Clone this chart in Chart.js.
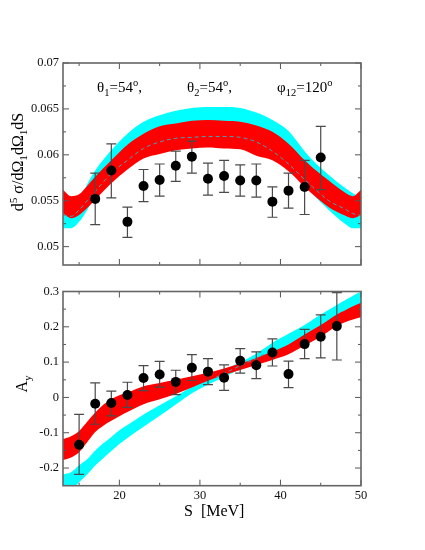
<!DOCTYPE html>
<html>
<head>
<meta charset="utf-8">
<script src="https://cdn.jsdelivr.net/npm/chart.js@4"></script>
<style>
body { margin:0; background:#fff; width:425px; height:550px; position:relative; overflow:hidden; font-family:'Liberation Serif','Times New Roman',serif; }
.box { position:absolute; left:0; width:425px; }
.txt { position:absolute; font-size:15px; line-height:16px; white-space:nowrap; color:#000; }
.txt sub, .txt sup { font-size:70%; line-height:0; }
.big { font-size:16px; }
.rot { transform: translate(-50%,-50%) rotate(-90deg); }
</style>
</head>
<body>
<div class="box" style="top:0;height:280px"><canvas id="topChart"></canvas></div>
<div class="box" style="top:280px;height:270px"><canvas id="botChart"></canvas></div>

<div class="txt" style="left:97px;top:79px">θ<sub>1</sub>=54<sup>o</sup>,</div>
<div class="txt" style="left:187px;top:79px">θ<sub>2</sub>=54<sup>o</sup>,</div>
<div class="txt" style="left:277px;top:79px">φ<sub>12</sub>=120<sup>o</sup></div>
<div class="txt big rot" style="left:18px;top:162px">d<sup>5</sup> σ/dΩ<sub>1</sub>dΩ<sub>1</sub>dS</div>
<div class="txt big rot" style="left:22px;top:384px">A<sub>y</sub></div>
<div class="txt big" style="left:184px;top:503px">S&nbsp;&nbsp;[MeV]</div>

<script>
// energies of the data points
const sPoints = [17, 19, 21, 23, 25, 27, 29, 31, 33, 35, 37, 39, 41, 43, 45]
const sPointsAy = [15, 17, 19, 21, 23, 25, 27, 29, 31, 33, 35, 37, 39, 41, 43, 45, 47]

// cross section data
const xsValue = [0.0552, 0.0583, 0.0527, 0.0566, 0.05725, 0.0588, 0.0598, 0.0574, 0.0577, 0.0572, 0.0572, 0.0549, 0.0561, 0.0565, 0.0597]
const xsErrHi = [0.0580, 0.0612, 0.0543, 0.0584, 0.0590, 0.0604, 0.0615, 0.0591, 0.0594, 0.0589, 0.0590, 0.0565, 0.0580, 0.0594, 0.0631]
const xsErrLo = [0.0524, 0.0553, 0.0510, 0.0549, 0.0555, 0.0571, 0.0580, 0.0556, 0.0559, 0.0555, 0.0554, 0.0532, 0.0542, 0.0535, 0.0562]

// analyzing power data
const ayValue = [-0.134, -0.018, -0.016, 0.007, 0.055, 0.065, 0.044, 0.084, 0.073, 0.056, 0.104, 0.091, 0.127, 0.066, 0.151, 0.172, 0.202]
const ayErrHi = [-0.048, 0.041, 0.018, 0.043, 0.090, 0.102, 0.077, 0.121, 0.110, 0.092, 0.138, 0.129, 0.166, 0.103, 0.193, 0.234, 0.297]
const ayErrLo = [-0.218, -0.076, -0.052, -0.028, 0.019, 0.029, 0.008, 0.048, 0.036, 0.020, 0.069, 0.053, 0.089, 0.028, 0.110, 0.112, 0.106]

// theory bands, cross section
const sBandTop = [13, 14, 15, 16, 17, 19, 21, 23, 25, 27, 29, 31, 33, 35, 37, 39, 41, 43, 44, 46, 48, 49, 50]
const xsCyanHi = [0.0545, 0.0542, 0.0550, 0.0568, 0.0583, 0.0605, 0.0623, 0.0636, 0.0643, 0.0648, 0.0651, 0.0652, 0.0652, 0.0651, 0.0646, 0.0638, 0.0626, 0.0604, 0.0594, 0.0578, 0.0564, 0.0558, 0.0555]
const xsCyanLo = [0.0520, 0.0520, 0.0527, 0.0540, 0.0555, 0.0573, 0.0588, 0.0599, 0.0605, 0.0608, 0.0610, 0.0611, 0.0611, 0.0609, 0.0603, 0.0596, 0.0584, 0.0566, 0.0557, 0.0540, 0.0525, 0.0520, 0.0520]
const xsRedHi = [0.0562, 0.0555, 0.0557, 0.0566, 0.0576, 0.0594, 0.0611, 0.0623, 0.0631, 0.0634, 0.0637, 0.0638, 0.0637, 0.0636, 0.0632, 0.0625, 0.0612, 0.0594, 0.0586, 0.0572, 0.0559, 0.0555, 0.0562]
const xsRedLo = [0.0536, 0.0531, 0.05345, 0.0542, 0.0551, 0.0569, 0.0584, 0.0596, 0.0601, 0.0605, 0.0607, 0.0608, 0.0607, 0.0606, 0.0599, 0.0594, 0.0582, 0.0565, 0.0557, 0.0543, 0.0534, 0.0531, 0.05345]
const xsDashed = [0.05345, 0.0533, 0.0540, 0.0550, 0.0560, 0.0580, 0.0594, 0.0607, 0.0614, 0.0618, 0.0619, 0.0620, 0.0620, 0.0619, 0.0614, 0.0604, 0.0590, 0.0573, 0.0565, 0.0550, 0.0541, 0.0536, 0.0534]

// theory bands, analyzing power
const sBandBot = [13, 14, 15, 16, 17, 18, 19, 20, 21, 23, 25, 27, 29, 31, 33, 35, 37, 39, 41, 43, 45, 47, 48, 49, 50]
const ayCyanHi = [-0.218, -0.212, -0.192, -0.175, -0.150, -0.130, -0.112, -0.093, -0.078, -0.048, -0.022, 0.003, 0.030, 0.055, 0.078, 0.100, 0.124, 0.155, 0.180, 0.205, 0.235, 0.262, 0.275, 0.288, 0.300]
const ayCyanLo = [-0.270, -0.262, -0.240, -0.218, -0.193, -0.172, -0.152, -0.132, -0.115, -0.083, -0.052, -0.020, 0.012, 0.036, 0.058, 0.080, 0.098, 0.122, 0.146, 0.170, 0.200, 0.226, 0.238, 0.250, 0.262]
const ayRedHi = [-0.118, -0.110, -0.095, -0.069, -0.043, -0.021, -0.005, 0.006, 0.014, 0.032, 0.041, 0.050, 0.060, 0.070, 0.082, 0.096, 0.112, 0.130, 0.150, 0.178, 0.205, 0.235, 0.246, 0.258, 0.268]
const ayRedLo = [-0.177, -0.170, -0.155, -0.127, -0.098, -0.080, -0.066, -0.053, -0.041, -0.019, -0.005, 0.010, 0.028, 0.047, 0.064, 0.078, 0.092, 0.106, 0.122, 0.147, 0.172, 0.202, 0.213, 0.221, 0.227]
// the dashed line only shows where it crosses the red band
const sDashedBot = [32, 33, 35, 37, 38]
const ayDashed = [0.057, 0.068, 0.090, 0.111, 0.124]

// axes
const xMajor = [20, 30, 40, 50]
const xMinor = [15, 25, 35, 45]
const topYMajor = [0.05, 0.055, 0.06, 0.065, 0.07]
const topYLabels = ['0.05', '0.055', '0.06', '0.065', '0.07']
const topYMinor = [0.0525, 0.0575, 0.0625, 0.0675]
const botYMajor = [-0.2, -0.1, 0, 0.1, 0.2, 0.3]
const botYLabels = ['-0.2', '-0.1', '0', '0.1', '0.2', '0.3']
const botYMinor = [-0.15, -0.05, 0.05, 0.15, 0.25]

const CYAN = '#00ffff'
const RED = '#ff0000'
const tickFont = { family: "'Liberation Serif', 'Times New Roman', serif", size: 12.5 }

const pts = (xs, ys) => xs.map((v, i) => ({ x: v, y: ys[i] }))

// frame and inward ticks on all four sides
const frameTicks = {
    id: 'frameTicks',
    afterDraw(chart, args, opts) {
        const { ctx, chartArea: a, scales: { x, y } } = chart
        ctx.save()
        ctx.strokeStyle = '#555'
        ctx.lineWidth = 1
        const line = (x1, y1, x2, y2) => {
            ctx.beginPath(); ctx.moveTo(x1, y1); ctx.lineTo(x2, y2); ctx.stroke()
        }
        const xt = (vals, len) => vals.forEach(v => {
            const p = x.getPixelForValue(v)
            line(p, a.bottom, p, a.bottom - len)
            line(p, a.top, p, a.top + len)
        })
        const yt = (vals, len) => vals.forEach(v => {
            const p = y.getPixelForValue(v)
            line(a.left, p, a.left + len, p)
            line(a.right, p, a.right - len, p)
        })
        xt(xMajor, 6); xt(xMinor, 3)
        yt(opts.yMajor, 6); yt(opts.yMinor, 3)
        ctx.strokeStyle = '#666'
        ctx.lineWidth = 1.6
        ctx.strokeRect(a.left, a.top, a.right - a.left, a.bottom - a.top)
        ctx.restore()
    }
}

// error bars drawn just before the points
const errorBars = {
    id: 'errorBars',
    beforeDatasetDraw(chart, args) {
        const ds = chart.data.datasets[args.index]
        if (!ds.errHi) return
        const { ctx, scales: { x, y } } = chart
        ctx.save()
        ctx.strokeStyle = '#4a4a4a'
        ctx.lineWidth = 1.2
        ds.data.forEach((p, i) => {
            const px = x.getPixelForValue(p.x)
            const hi = y.getPixelForValue(ds.errHi[i])
            const lo = y.getPixelForValue(ds.errLo[i])
            ctx.beginPath()
            ctx.moveTo(px, hi); ctx.lineTo(px, lo)
            ctx.moveTo(px - 5, hi); ctx.lineTo(px + 5, hi)
            ctx.moveTo(px - 5, lo); ctx.lineTo(px + 5, lo)
            ctx.stroke()
        })
        ctx.restore()
    }
}

const band = (xs, lo, hi, color, ord) => [
    { data: pts(xs, lo), borderWidth: 0, pointRadius: 0, fill: false, order: ord, cubicInterpolationMode: 'monotone' },
    { data: pts(xs, hi), borderWidth: 0, pointRadius: 0, fill: '-1', backgroundColor: color, order: ord, cubicInterpolationMode: 'monotone' }
]

const makeChart = (id, c) => new Chart(document.getElementById(id), {
    type: 'line',
    data: {
        datasets: [
            ...band(c.sBand, c.cyanLo, c.cyanHi, CYAN, 4),
            ...band(c.sBand, c.redLo, c.redHi, RED, 3),
            {
                data: pts(c.sDashed, c.dashed), borderColor: '#4a9fb0', borderWidth: 1, borderDash: [4, 3],
                pointRadius: 0, fill: false, order: 2, cubicInterpolationMode: 'monotone'
            },
            {
                data: pts(c.sPts, c.values), errHi: c.errHi, errLo: c.errLo, showLine: false,
                pointRadius: 5, pointBackgroundColor: '#000', pointBorderColor: '#000', pointBorderWidth: 0, order: 1
            }
        ]
    },
    options: {
        responsive: true,
        maintainAspectRatio: false,
        animation: false,
        layout: { padding: c.padding },
        plugins: {
            legend: { display: false },
            tooltip: { enabled: false },
            frameTicks: { yMajor: c.yMajor, yMinor: c.yMinor }
        },
        scales: {
            x: {
                type: 'linear', min: 13, max: 50,
                grid: { display: false, drawTicks: false },
                border: { display: false },
                ticks: { display: c.showX, font: tickFont, color: '#111', padding: 3, maxRotation: 0 },
                afterBuildTicks: s => { s.ticks = xMajor.map(v => ({ value: v })) },
                afterFit: s => { s.height = c.xHeight }
            },
            y: {
                min: c.yMin, max: c.yMax,
                grid: { display: false, drawTicks: false },
                border: { display: false },
                ticks: { font: tickFont, color: '#111', padding: 4, callback: (v, i) => c.yLabels[i] },
                afterBuildTicks: s => { s.ticks = c.yMajor.map(v => ({ value: v })) },
                afterFit: s => { s.width = 63 }
            }
        }
    },
    plugins: [frameTicks, errorBars]
})

makeChart('topChart', {
    sBand: sBandTop, cyanLo: xsCyanLo, cyanHi: xsCyanHi, redLo: xsRedLo, redHi: xsRedHi,
    sDashed: sBandTop, dashed: xsDashed,
    sPts: sPoints, values: xsValue, errHi: xsErrHi, errLo: xsErrLo,
    yMin: 0.048, yMax: 0.07, yMajor: topYMajor, yMinor: topYMinor, yLabels: topYLabels,
    showX: false, xHeight: 0,
    padding: { top: 63, right: 64, bottom: 15, left: 0 }
})

makeChart('botChart', {
    sBand: sBandBot, cyanLo: ayCyanLo, cyanHi: ayCyanHi, redLo: ayRedLo, redHi: ayRedHi,
    sDashed: sDashedBot, dashed: ayDashed,
    sPts: sPointsAy, values: ayValue, errHi: ayErrHi, errLo: ayErrLo,
    yMin: -0.25, yMax: 0.3, yMajor: botYMajor, yMinor: botYMinor, yLabels: botYLabels,
    showX: true, xHeight: 20,
    padding: { top: 5, right: 64, bottom: 44.3, left: 0 }
})
</script>
</body>
</html>
